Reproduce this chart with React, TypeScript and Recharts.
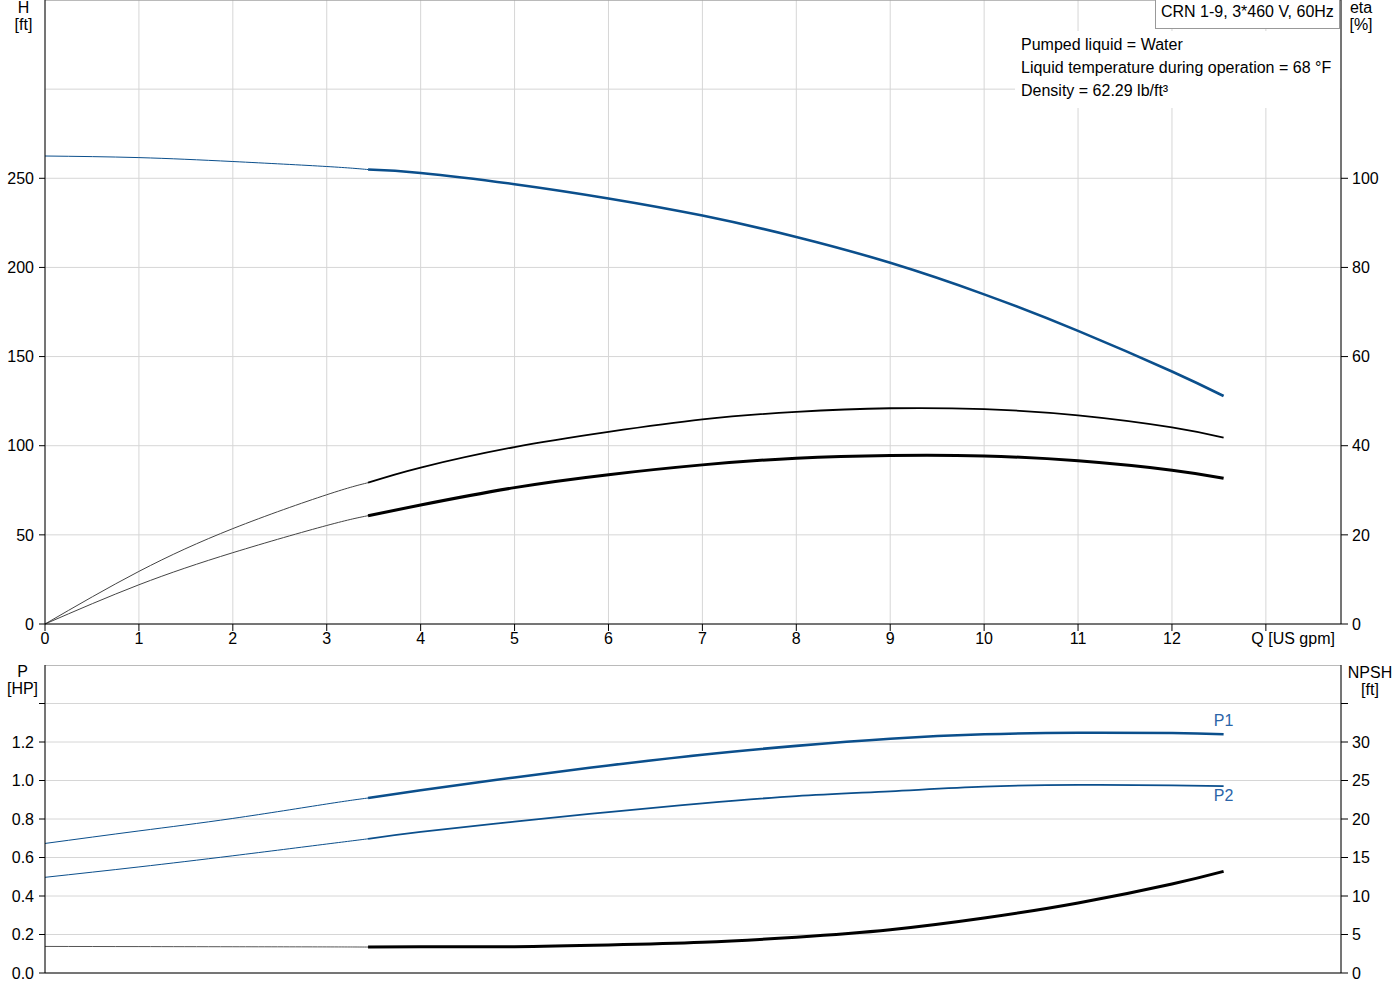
import React from 'react';
import {
  LineChart,
  Line,
  XAxis,
  YAxis,
  CartesianGrid,
  ReferenceLine
} from 'recharts';

// flow points (US gpm); index 4 is where the duty range (thick curve) starts
const flow = [0, 1, 2, 3, 3.44, 4, 5, 6, 7, 8, 9, 10, 11, 12, 12.55];
const head = [262.5, 261.6, 259.4, 256.6, 254.9, 253.0, 246.7, 238.7, 229.1, 217.1, 202.6, 184.9, 164.4, 141.6, 127.9];
const etaPump = [0, 11.8, 21.4, 29.0, 31.7, 35.1, 39.7, 43.1, 45.9, 47.6, 48.4, 48.2, 46.8, 44.1, 41.8];
const etaTotal = [0, 8.8, 16.0, 22.1, 24.3, 26.7, 30.6, 33.5, 35.7, 37.2, 37.8, 37.7, 36.6, 34.5, 32.7];
const powerP1 = [0.673, 0.738, 0.803, 0.878, 0.909, 0.949, 1.016, 1.078, 1.134, 1.18, 1.217, 1.24, 1.248, 1.247, 1.24];
const powerP2 = [0.497, 0.551, 0.609, 0.67, 0.697, 0.733, 0.786, 0.836, 0.881, 0.919, 0.944, 0.968, 0.977, 0.975, 0.971];
const npsh = [3.45, 3.43, 3.41, 3.39, 3.37, 3.4, 3.42, 3.63, 3.98, 4.65, 5.62, 7.14, 9.09, 11.56, 13.2];

const qTicks = [0, 1, 2, 3, 4, 5, 6, 7, 8, 9, 10, 11, 12, 13];
const hTicks = [0, 50, 100, 150, 200, 250];
const etaTicks = [0, 20, 40, 60, 80, 100];
const pTicks = [0, 0.2, 0.4, 0.6, 0.8, 1.0, 1.2, 1.4];
const npshTicks = [0, 5, 10, 15, 20, 25, 30, 35];

const DUTY_START = 4;
const FONT = '"Liberation Sans", Arial, sans-serif';
const BLUE = '#0b4f8c';
const LABEL_BLUE = '#2a64a8';
const GRID = '#d6d6d6';

const split = (vals: number[]) => ({
  thin: vals.map((v, i) => (i <= DUTY_START ? v : null)),
  thick: vals.map((v, i) => (i >= DUTY_START ? v : null))
});

const series = {
  h: split(head),
  e1: split(etaPump),
  e2: split(etaTotal),
  p1: split(powerP1),
  p2: split(powerP2),
  n: split(npsh)
};

const rows = flow.map((q, i) => {
  const row: any = { q };
  Object.entries(series).forEach(([k, s]) => {
    row[k + 'Thin'] = s.thin[i];
    row[k + 'Thick'] = s.thick[i];
  });
  return row;
});

const LAST = flow.length - 1;

const QTick = (props: any) => {
  const { x, y, payload } = props;
  if (payload.value === 13) {
    return (
      <text x={x - 14.5} y={y} dy="0.71em" textAnchor="start" fontSize={16} fontFamily={FONT} fill="#000">
        Q [US gpm]
      </text>
    );
  }
  return (
    <text x={x} y={y} dy="0.71em" textAnchor="middle" fontSize={16} fontFamily={FONT} fill="#000">
      {payload.value}
    </text>
  );
};

const makeYTick = (maxLabel: number, digits: number, anchor: string) => (props: any) => {
  const { x, y, payload } = props;
  if (payload.value > maxLabel) return null;
  return (
    <text x={x} y={y} dy="0.355em" textAnchor={anchor} fontSize={16} fontFamily={FONT} fill="#000">
      {payload.value.toFixed(digits)}
    </text>
  );
};

const curveLabel = (text: string, dy: number) => (props: any) => {
  const { x, y, index } = props;
  if (index !== LAST) return null;
  return (
    <text x={x} y={y + dy} textAnchor="middle" fontSize={16} fontFamily={FONT} fill={LABEL_BLUE}>
      {text}
    </text>
  );
};

const axisStyle = { stroke: '#000' };
const CURVE = 'natural';

const textBase: React.CSSProperties = {
  position: 'absolute',
  fontFamily: FONT,
  fontSize: 16,
  color: '#000',
  lineHeight: '17.5px',
  whiteSpace: 'nowrap'
};

export default function App() {
  return (
    <div style={{ position: 'absolute', left: 0, top: 0, width: 1400, height: 1000, background: '#fff' }}>
      <div style={{ position: 'absolute', left: 0, top: 0 }}>
        <LineChart width={1400} height={660} data={rows} margin={{ top: 0, right: 0, bottom: 0, left: 0 }}>
          <CartesianGrid stroke={GRID} yAxisId="l" />
          <XAxis
            dataKey="q"
            type="number"
            domain={[0, 13.8]}
            ticks={qTicks}
            interval={0}
            height={36}
            axisLine={axisStyle}
            tickLine={axisStyle}
            tickSize={7}
            tickMargin={2}
            tick={QTick}
          />
          <YAxis
            yAxisId="l"
            domain={[0, 350]}
            ticks={hTicks}
            interval={0}
            width={45}
            axisLine={axisStyle}
            tickLine={axisStyle}
            tickSize={6}
            tickMargin={5}
            tick={makeYTick(1000, 0, 'end')}
          />
          <YAxis
            yAxisId="r"
            orientation="right"
            domain={[0, 140]}
            ticks={etaTicks}
            interval={0}
            width={59}
            axisLine={axisStyle}
            tickLine={axisStyle}
            tickSize={7}
            tickMargin={4}
            tick={makeYTick(1000, 0, 'start')}
          />
          <ReferenceLine yAxisId="l" y={300} stroke={GRID} />
          <ReferenceLine yAxisId="l" y={350} stroke="#8a8a8a" />
          <Line yAxisId="l" type={CURVE} dataKey="hThin" stroke={BLUE} strokeWidth={1} dot={false} activeDot={false} isAnimationActive={false} />
          <Line yAxisId="l" type={CURVE} dataKey="hThick" stroke={BLUE} strokeWidth={2.6} dot={false} activeDot={false} isAnimationActive={false} />
          <Line yAxisId="r" type={CURVE} dataKey="e1Thin" stroke="#444" strokeWidth={1} dot={false} activeDot={false} isAnimationActive={false} />
          <Line yAxisId="r" type={CURVE} dataKey="e1Thick" stroke="#000" strokeWidth={1.8} dot={false} activeDot={false} isAnimationActive={false} />
          <Line yAxisId="r" type={CURVE} dataKey="e2Thin" stroke="#444" strokeWidth={1} dot={false} activeDot={false} isAnimationActive={false} />
          <Line yAxisId="r" type={CURVE} dataKey="e2Thick" stroke="#000" strokeWidth={3} dot={false} activeDot={false} isAnimationActive={false} />
        </LineChart>
      </div>

      <div style={{ position: 'absolute', left: 0, top: 665 }}>
        <LineChart width={1400} height={318} data={rows} margin={{ top: 0, right: 0, bottom: 0, left: 0 }}>
          <CartesianGrid stroke={GRID} yAxisId="l" />
          <XAxis
            dataKey="q"
            type="number"
            domain={[0, 13.8]}
            ticks={qTicks}
            interval={0}
            height={10}
            axisLine={axisStyle}
            tickLine={false}
            tick={false}
          />
          <YAxis
            yAxisId="l"
            domain={[0, 1.6]}
            ticks={pTicks}
            interval={0}
            width={45}
            axisLine={axisStyle}
            tickLine={axisStyle}
            tickSize={6}
            tickMargin={5}
            tick={makeYTick(1.21, 1, 'end')}
          />
          <YAxis
            yAxisId="r"
            orientation="right"
            domain={[0, 40]}
            ticks={npshTicks}
            interval={0}
            width={59}
            axisLine={axisStyle}
            tickLine={axisStyle}
            tickSize={7}
            tickMargin={4}
            tick={makeYTick(30, 0, 'start')}
          />
          <ReferenceLine yAxisId="l" y={1.6} stroke="#8a8a8a" />
          <Line yAxisId="l" type={CURVE} dataKey="p1Thin" stroke={BLUE} strokeWidth={1} dot={false} activeDot={false} isAnimationActive={false} />
          <Line yAxisId="l" type={CURVE} dataKey="p1Thick" stroke={BLUE} strokeWidth={2.6} dot={false} activeDot={false} isAnimationActive={false} label={curveLabel('P1', -8.6)} />
          <Line yAxisId="l" type={CURVE} dataKey="p2Thin" stroke={BLUE} strokeWidth={1} dot={false} activeDot={false} isAnimationActive={false} />
          <Line yAxisId="l" type={CURVE} dataKey="p2Thick" stroke={BLUE} strokeWidth={1.8} dot={false} activeDot={false} isAnimationActive={false} label={curveLabel('P2', 14.7)} />
          <Line yAxisId="r" type={CURVE} dataKey="nThin" stroke="#555" strokeWidth={1} dot={false} activeDot={false} isAnimationActive={false} />
          <Line yAxisId="r" type={CURVE} dataKey="nThick" stroke="#000" strokeWidth={3} dot={false} activeDot={false} isAnimationActive={false} />
        </LineChart>
      </div>

      {/* axis titles */}
      <div style={{ ...textBase, left: 0, top: -1.5, width: 47, textAlign: 'center' }}>H<br />[ft]</div>
      <div style={{ ...textBase, left: 1342, top: -1.5, width: 38, textAlign: 'center' }}>eta<br />[%]</div>
      <div style={{ ...textBase, left: 0, top: 662.5, width: 45, textAlign: 'center' }}>P<br />[HP]</div>
      <div style={{ ...textBase, left: 1344, top: 663.5, width: 52, textAlign: 'center' }}>NPSH<br />[ft]</div>

      {/* pump label and liquid info */}
      <div
        style={{
          ...textBase,
          left: 1155,
          top: -1,
          width: 185,
          height: 30,
          boxSizing: 'border-box',
          border: '1px solid #999',
          background: '#fff',
          paddingLeft: 5,
          paddingTop: 1,
          lineHeight: '22px'
        }}
      >
        CRN 1-9, 3*460 V, 60Hz
      </div>
      <div
        style={{
          ...textBase,
          left: 1015,
          top: 31,
          width: 325,
          height: 77,
          boxSizing: 'border-box',
          background: '#fff',
          paddingLeft: 6,
          paddingTop: 1.5,
          lineHeight: '23.4px'
        }}
      >
        Pumped liquid = Water
        <br />
        Liquid temperature during operation = 68 °F
        <br />
        Density = 62.29 lb/ft³
      </div>
    </div>
  );
}
